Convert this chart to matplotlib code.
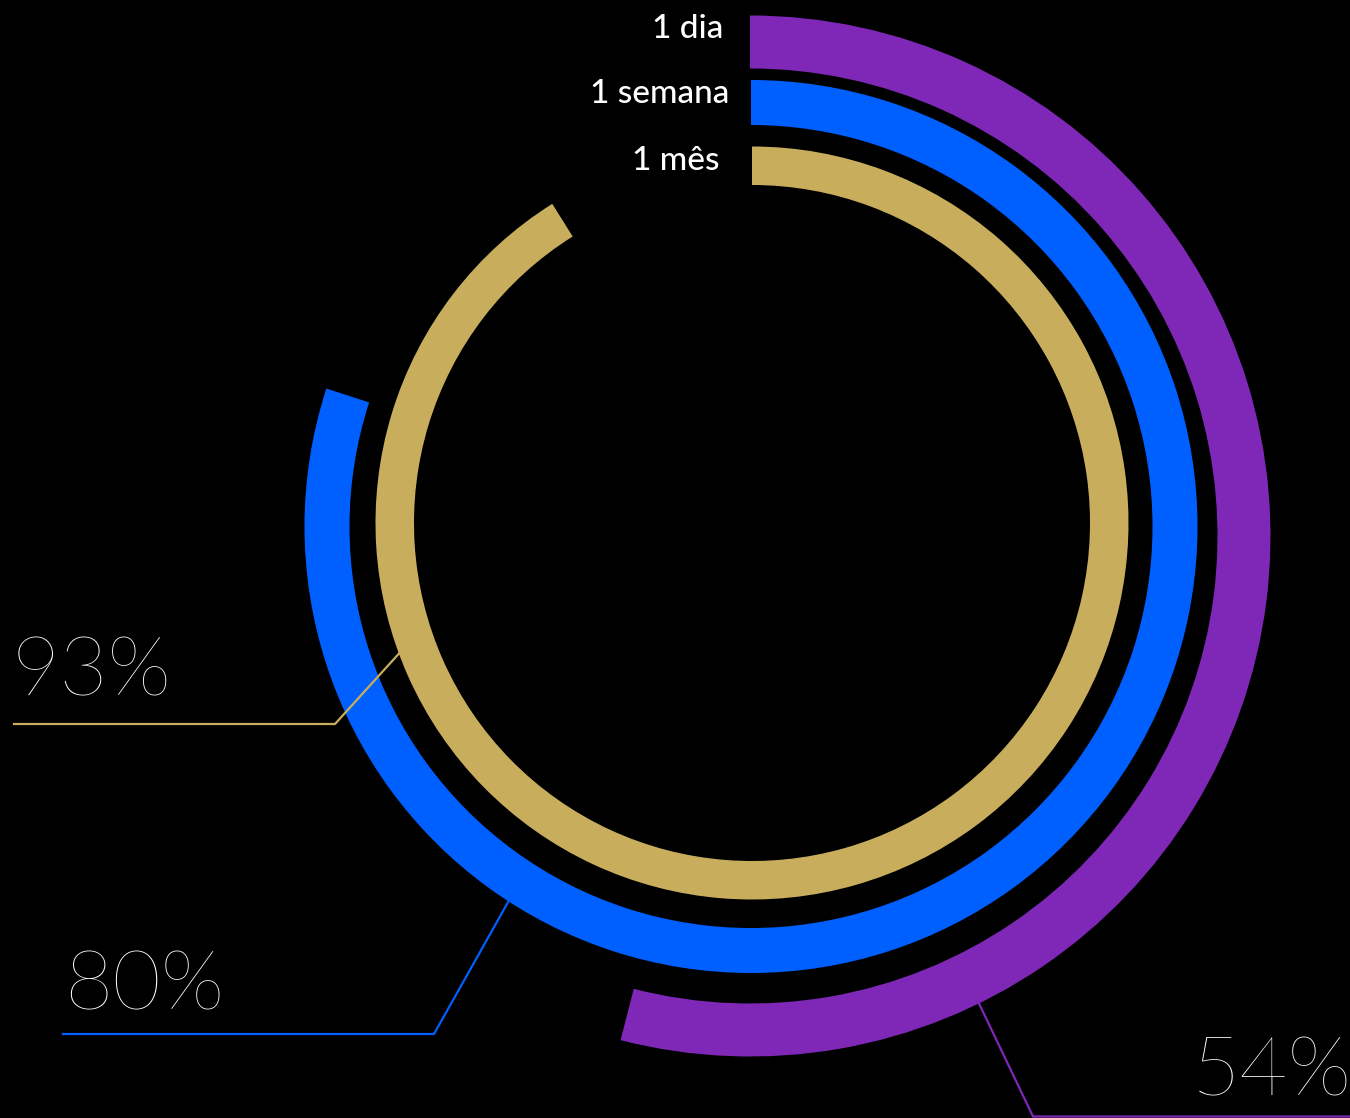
import matplotlib
matplotlib.use("Agg")
import matplotlib.pyplot as plt
from matplotlib.patches import Wedge
import numpy as np

# dados
periodos = ["1 dia", "1 semana", "1 mês"]
percentuais = [54, 80, 93]
arco_pct = [54, 80, 91.1]   # extensão do arco como aparece no gráfico
cores = ["#7F28B8", "#0060FF", "#C8AE5C"]

# geometria de cada anel (em pixels, y para cima)
centros = [(750, 582), (751, 591.5), (752, 595)]
raios = [520.5, 446.5, 376.5]
larguras = [53, 45, 38.5]
ang_linha = [296.1, 237.1, 200.3]
cotovelos = [(1033, 1.5), (434, 84), (335, 394)]
fim_linha = [1350, 63, 14]
nomes_x = [723, 729, 720]
rotulos_pos = [(1352, 23, 'right'), (64, 108, 'left'), (12, 423, 'left')]

fig = plt.figure(figsize=(13.5, 11.18), dpi=100, facecolor='black')
ax = fig.add_axes([0, 0, 1, 1])
ax.set_facecolor('black')
ax.set_xlim(0, 1350)
ax.set_ylim(0, 1118)
ax.axis('off')

for i in range(len(periodos)):
    cx, cy = centros[i]
    graus = arco_pct[i] / 100 * 360
    ax.add_patch(Wedge((cx, cy), raios[i], 90 - graus, 90, width=larguras[i],
                       facecolor=cores[i], edgecolor='none'))

    # nome do período ao lado do início do arco
    ax.text(nomes_x[i], cy + raios[i] - 23, periodos[i], color='white',
            fontsize=24, family='Lato', fontweight='medium',
            ha='right', va='baseline')

    # linha de chamada
    a = np.deg2rad(ang_linha[i])
    x0 = cx + raios[i] * np.cos(a)
    y0 = cy + raios[i] * np.sin(a)
    ex, ey = cotovelos[i]
    ax.plot([x0, ex, fim_linha[i]], [y0, ey, ey], color=cores[i],
            lw=1.6, solid_joinstyle='miter')

    tx, ty, ha = rotulos_pos[i]
    ax.text(tx, ty, f"{percentuais[i]}%", color='white', fontsize=60,
            family='Lato', fontweight=100, ha=ha, va='baseline')

fig.savefig('out.png', dpi=100, facecolor='black')
